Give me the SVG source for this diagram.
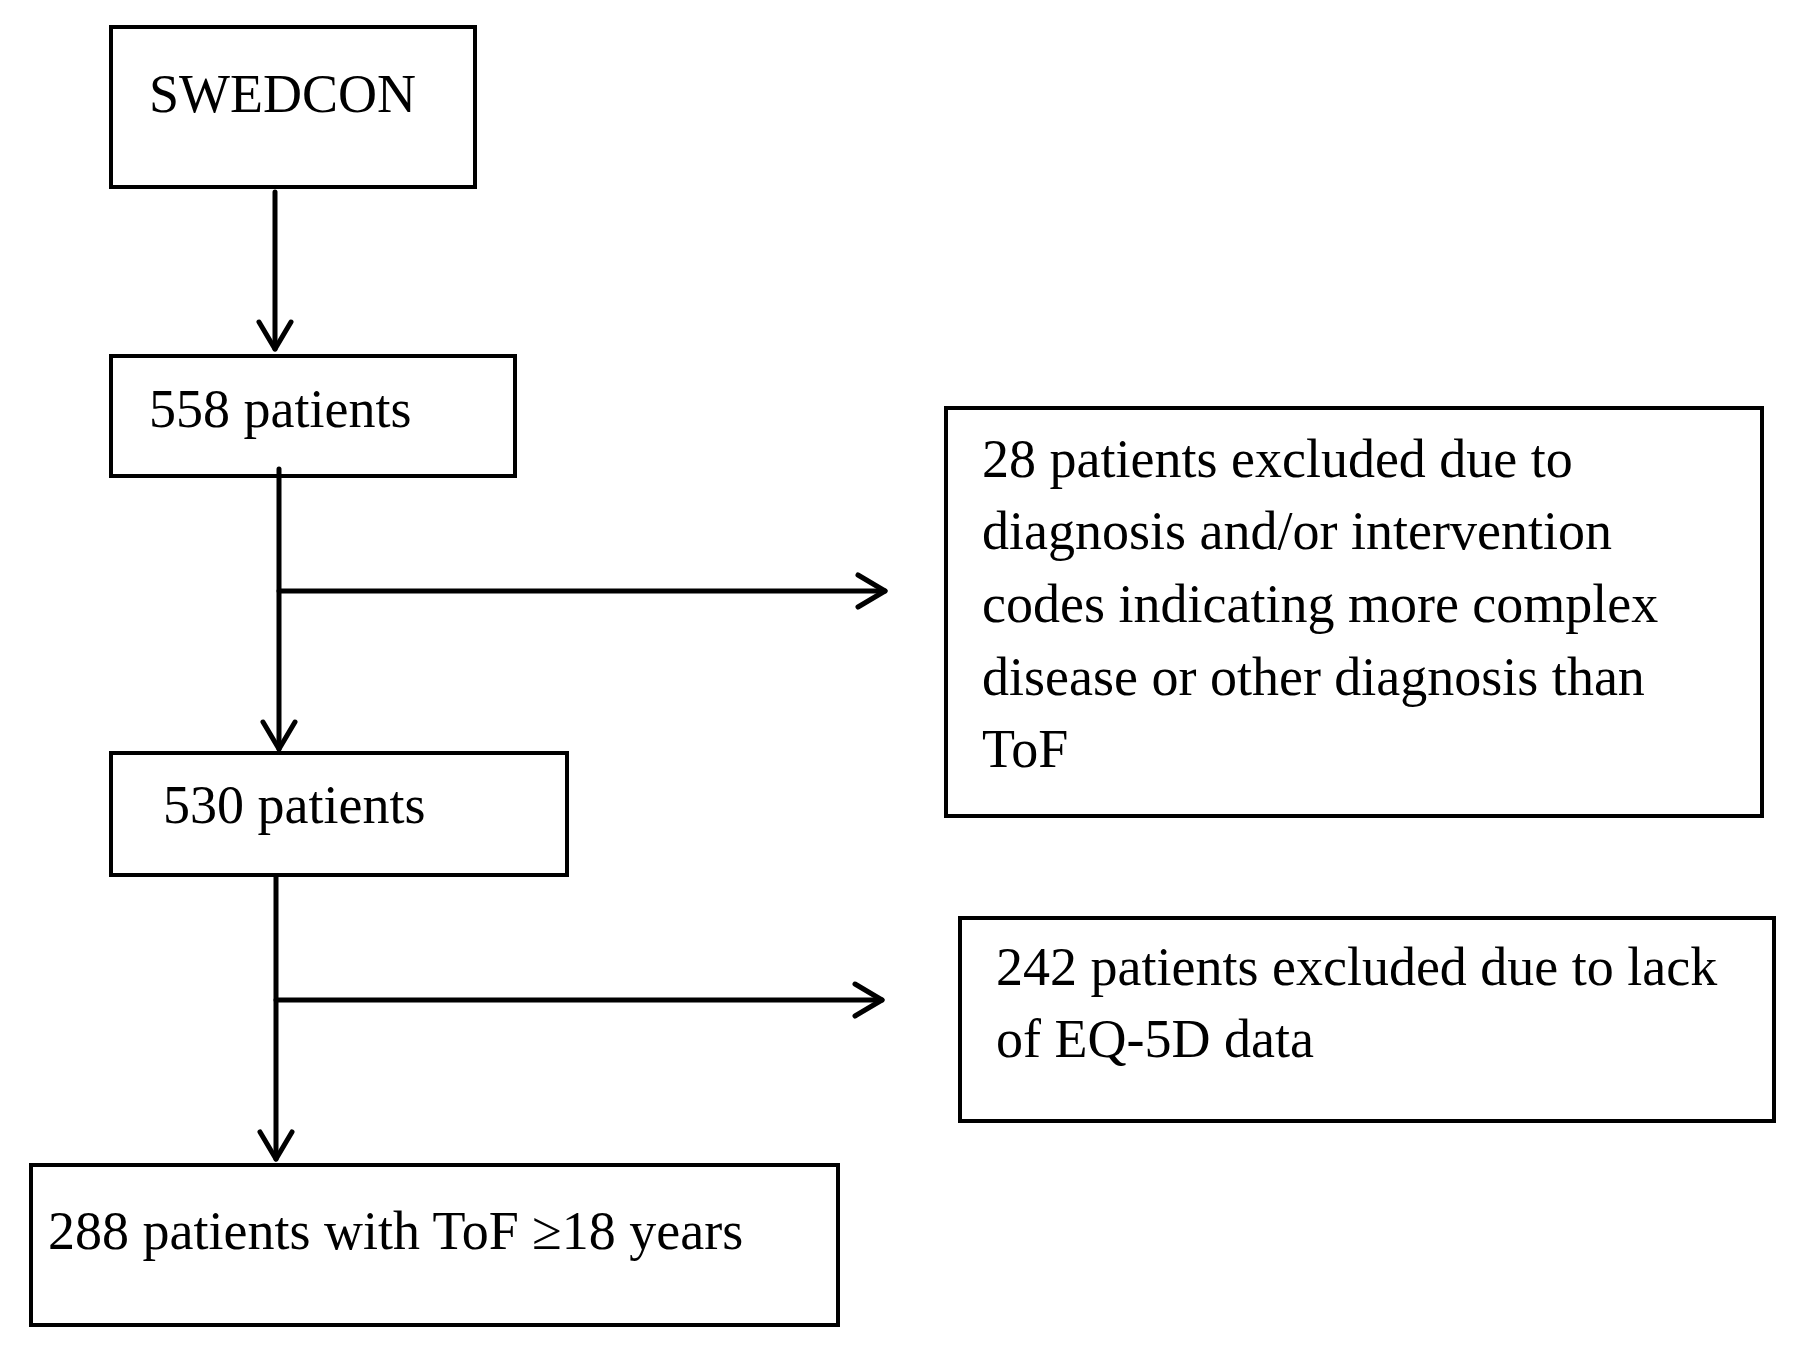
<svg xmlns="http://www.w3.org/2000/svg" width="1800" height="1345" viewBox="0 0 1800 1345">
<style>
rect{fill:#fff;stroke:#000;stroke-width:4}
text{font-family:"Liberation Serif","Times New Roman",serif;font-size:54px;fill:#000}
.c line,.c polyline{stroke:#000;stroke-width:5;fill:none;stroke-linecap:round;stroke-linejoin:round}
</style>
<rect x="0" y="0" width="1800" height="1345" style="stroke:none"/>
<g id="n1"><rect x="111" y="27" width="364" height="160"/><text x="149" y="112">SWEDCON</text></g>
<g id="n2"><rect x="111" y="356" width="404" height="120"/><text x="149" y="427">558 patients</text></g>
<g id="n3"><rect x="111" y="753" width="456" height="122"/><text x="163" y="823">530 patients</text></g>
<g id="n4"><rect x="31" y="1165" width="807" height="160"/><text x="48" y="1249">288 patients with ToF ≥18 years</text></g>
<g id="n5"><rect x="946" y="408" width="816" height="408"/><text x="982" y="477">28 patients excluded due to</text><text x="982" y="549">diagnosis and/or intervention</text><text x="982" y="622">codes indicating more complex</text><text x="982" y="695">disease or other diagnosis than</text><text x="982" y="767">ToF</text></g>
<g id="n6"><rect x="960" y="918" width="814" height="203"/><text x="996" y="985">242 patients excluded due to lack</text><text x="996" y="1057">of EQ-5D data</text></g>
<g class="c" id="connectors">
<line x1="275" y1="192" x2="275" y2="349"/><polyline points="259,322 275,349 291,322"/>
<line x1="279" y1="469" x2="279" y2="749"/><polyline points="263,722 279,749 295,722"/>
<line x1="279" y1="591" x2="885" y2="591"/><polyline points="858,575 885,591 858,607"/>
<line x1="276" y1="877" x2="276" y2="1159"/><polyline points="260,1132 276,1159 292,1132"/>
<line x1="276" y1="1000" x2="882" y2="1000"/><polyline points="855,984 882,1000 855,1016"/>
</g>
</svg>
